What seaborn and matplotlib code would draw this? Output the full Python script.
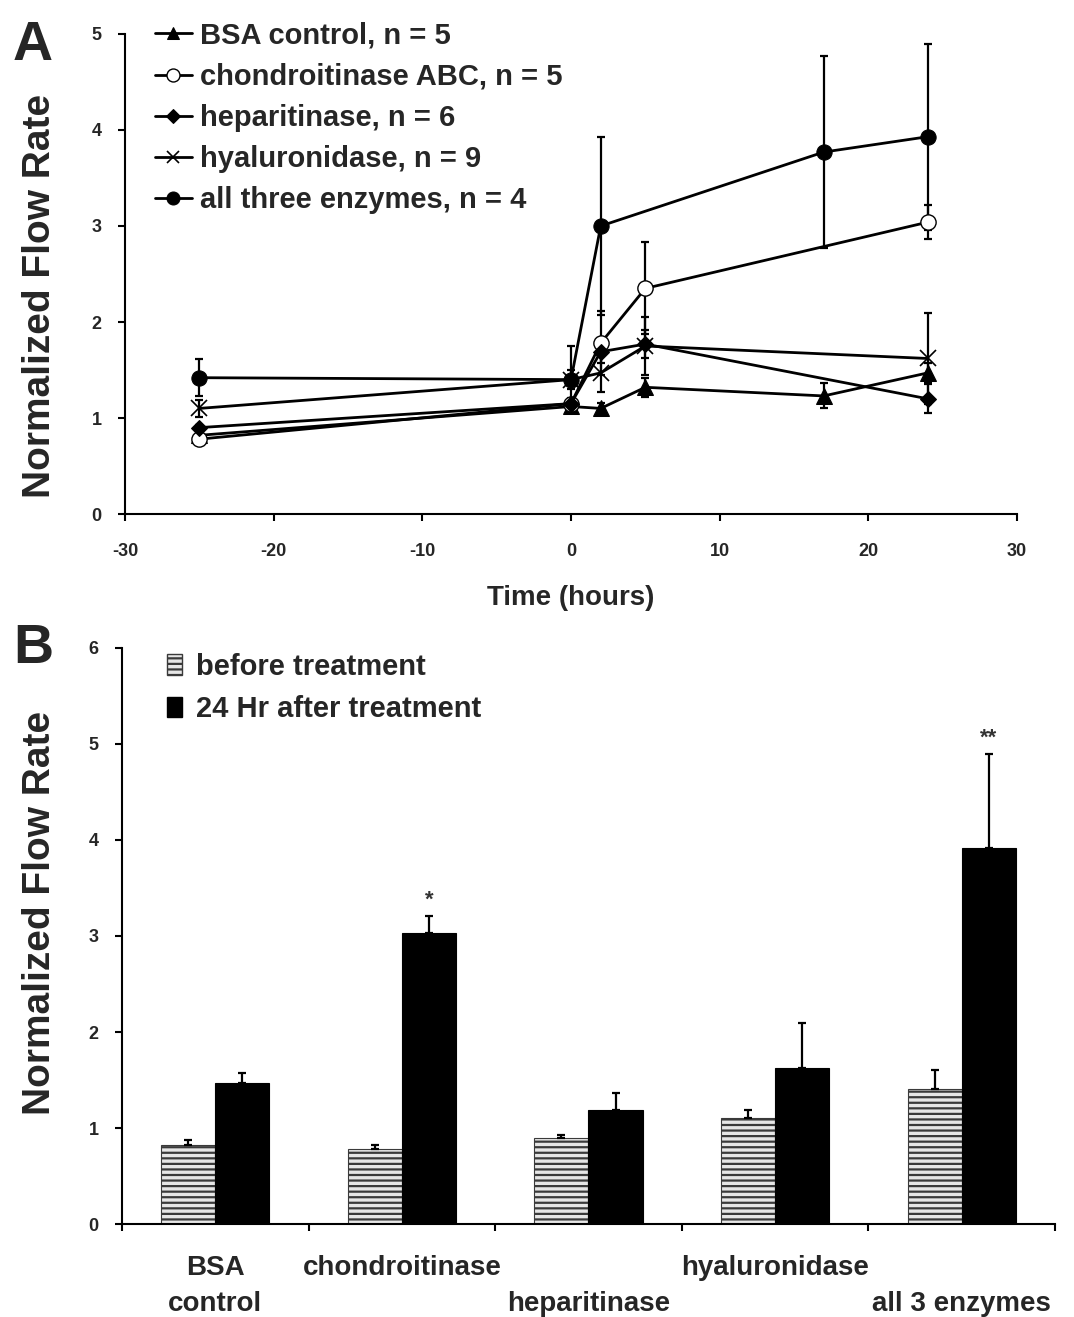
import numpy as np
import pandas as pd
import matplotlib
matplotlib.use("Agg")
import matplotlib.pyplot as plt
import seaborn as sns
from matplotlib.patches import Patch

sns.set_theme(style="ticks")
plt.rcParams["font.family"] = ["Liberation Sans", "DejaVu Sans"]
plt.rcParams["font.weight"] = "bold"
plt.rcParams["axes.unicode_minus"] = False
plt.rcParams["hatch.linewidth"] = 1.6

# Panel A: time course
bsa_t = [-25, 0, 2, 5, 17, 24]
bsa_y = [0.82, 1.12, 1.10, 1.32, 1.23, 1.47]
bsa_e = [0.06, 0.05, 0.06, 0.10, 0.13, 0.10]

chon_t = [-25, 0, 2, 5, 24]
chon_y = [0.78, 1.15, 1.78, 2.35, 3.04]
chon_e = [0.04, 0.06, 0.33, 0.48, 0.18]

hep_t = [-25, 0, 2, 5, 24]
hep_y = [0.90, 1.15, 1.69, 1.77, 1.20]
hep_e = [0.03, 0.05, 0.12, 0.15, 0.15]

hyal_t = [-25, 0, 2, 5, 24]
hyal_y = [1.10, 1.40, 1.47, 1.75, 1.62]
hyal_e = [0.09, 0.10, 0.20, 0.30, 0.47]

all_t = [-25, 0, 2, 17, 24]
all_y = [1.42, 1.40, 3.00, 3.77, 3.93]
all_e = [0.19, 0.35, 0.93, 1.00, 0.97]

series_names = ["BSA control, n = 5", "chondroitinase ABC, n = 5",
                "heparitinase, n = 6", "hyaluronidase, n = 9",
                "all three enzymes, n = 4"]

# Panel B: before vs 24 h
groups = ["BSA\ncontrol", "chondroitinase", "\nheparitinase", "hyaluronidase", "\nall 3 enzymes"]
before = [0.82, 0.78, 0.90, 1.10, 1.41]
before_err = [0.06, 0.04, 0.03, 0.09, 0.19]
after = [1.47, 3.03, 1.19, 1.62, 3.92]
after_err = [0.10, 0.18, 0.17, 0.47, 0.98]
stars = ["", "*", "", "", "**"]

fig = plt.figure(figsize=(10.74, 13.17), dpi=100)
axA = fig.add_axes([0.1164, 0.6097, 0.8305, 0.3645])
axB = fig.add_axes([0.1136, 0.0706, 0.8687, 0.4374])

# ---- Panel A ----
styles = [
    dict(marker="^", markersize=11, markerfacecolor="black"),
    dict(marker="o", markersize=11, markerfacecolor="white", markeredgewidth=1.0),
    dict(marker="D", markersize=8, markerfacecolor="black"),
    dict(marker="x", markersize=11, markeredgewidth=1.2),
    dict(marker="o", markersize=11, markerfacecolor="black"),
]
data = [(bsa_t, bsa_y, bsa_e), (chon_t, chon_y, chon_e), (hep_t, hep_y, hep_e),
        (hyal_t, hyal_y, hyal_e), (all_t, all_y, all_e)]

for name, (t, y, e), st in zip(series_names, data, styles):
    df = pd.DataFrame({"t": t, "y": y})
    axA.errorbar(t, y, yerr=e, fmt="none", ecolor="black", elinewidth=1.6,
                 capsize=3, capthick=1.6, zorder=2)
    sns.lineplot(data=df, x="t", y="y", ax=axA, color="black", linewidth=2,
                 markeredgecolor="black", label=name, zorder=3, **st)

axA.set_xlim(-30, 30)
axA.set_ylim(0, 5)
axA.set_xticks(range(-30, 31, 10))
axA.set_yticks(range(0, 6))
axA.set_xlabel("Time (hours)", fontsize=20, fontweight="bold", labelpad=18)
axA.set_ylabel("Normalized Flow Rate", fontsize=28, fontweight="bold")
axA.yaxis.set_label_coords(-0.075, 0.454)
axA.legend(loc="upper left", bbox_to_anchor=(0.02, 1.05), frameon=False,
           fontsize=21, handlelength=1.3, handletextpad=0.25, labelspacing=0.45,
           borderaxespad=0, markerscale=0.85)

# ---- Panel B ----
dfB = pd.DataFrame({
    "group": groups * 2,
    "value": before + after,
    "when": ["before treatment"] * 5 + ["24 Hr after treatment"] * 5,
})
sns.barplot(data=dfB, x="group", y="value", hue="when", ax=axB,
            palette=["white", "black"], width=0.58, errorbar=None,
            edgecolor="black", linewidth=0.8, legend=False)

bars = axB.patches[:10]
for p in bars[:5]:
    p.set_hatch("---")
    p.set_edgecolor("#3a3a3a")
    p.set_facecolor("#e6e6e6")

for p, err in zip(bars[:5], before_err):
    cx = p.get_x() + p.get_width() / 2
    axB.errorbar(cx, p.get_height(), yerr=[[0], [err]], fmt="none",
                 ecolor="black", elinewidth=1.6, capsize=3, capthick=1.6)
for p, err, s in zip(bars[5:], after_err, stars):
    cx = p.get_x() + p.get_width() / 2
    axB.errorbar(cx, p.get_height(), yerr=[[0], [err]], fmt="none",
                 ecolor="black", elinewidth=1.6, capsize=3, capthick=1.6)
    if s:
        axB.text(cx, p.get_height() + err + 0.05, s, ha="center", va="bottom",
                 fontsize=16, color="#333333")

axB.set_xlim(-0.5, 4.5)
axB.set_ylim(0, 6)
axB.set_yticks(range(0, 7))
axB.set_xticks(np.arange(-0.5, 5, 1.0))
axB.set_xticklabels([])
axB.set_xticks(range(5), minor=True)
axB.set_xticklabels(groups, minor=True, fontsize=20, fontweight="bold",
                    linespacing=1.5)
axB.tick_params(axis="x", which="minor", length=0, pad=22)
axB.set_xlabel("")
axB.set_ylabel("Normalized Flow Rate", fontsize=28, fontweight="bold")
axB.yaxis.set_label_coords(-0.069, 0.54)

handles = [Patch(facecolor="#e6e6e6", edgecolor="#3a3a3a", hatch="---"),
           Patch(facecolor="black", edgecolor="black")]
axB.legend(handles, ["before treatment", "24 Hr after treatment"],
           loc="upper left", bbox_to_anchor=(0.036, 1.012), frameon=False,
           fontsize=21, handlelength=0.5, handleheight=0.7, handletextpad=0.5,
           labelspacing=0.5, borderaxespad=0)

for ax in (axA, axB):
    sns.despine(ax=ax)
    ax.spines["left"].set_linewidth(1.5)
    ax.spines["bottom"].set_linewidth(1.5)
    ax.spines["left"].set_color("black")
    ax.spines["bottom"].set_color("black")
    ax.tick_params(axis="both", which="major", direction="out", length=5,
                   width=1.5, labelsize=13, color="black")
    ax.tick_params(axis="y", which="major", pad=12)
    for lab in ax.get_xticklabels() + ax.get_yticklabels():
        lab.set_fontweight("bold")
axA.tick_params(axis="x", which="major", pad=16)

fig.text(0.012, 0.985, "A", fontsize=40, fontweight="bold", va="top")
fig.text(0.012, 0.527, "B", fontsize=40, fontweight="bold", va="top")

fig.savefig("out.png", dpi=100)
